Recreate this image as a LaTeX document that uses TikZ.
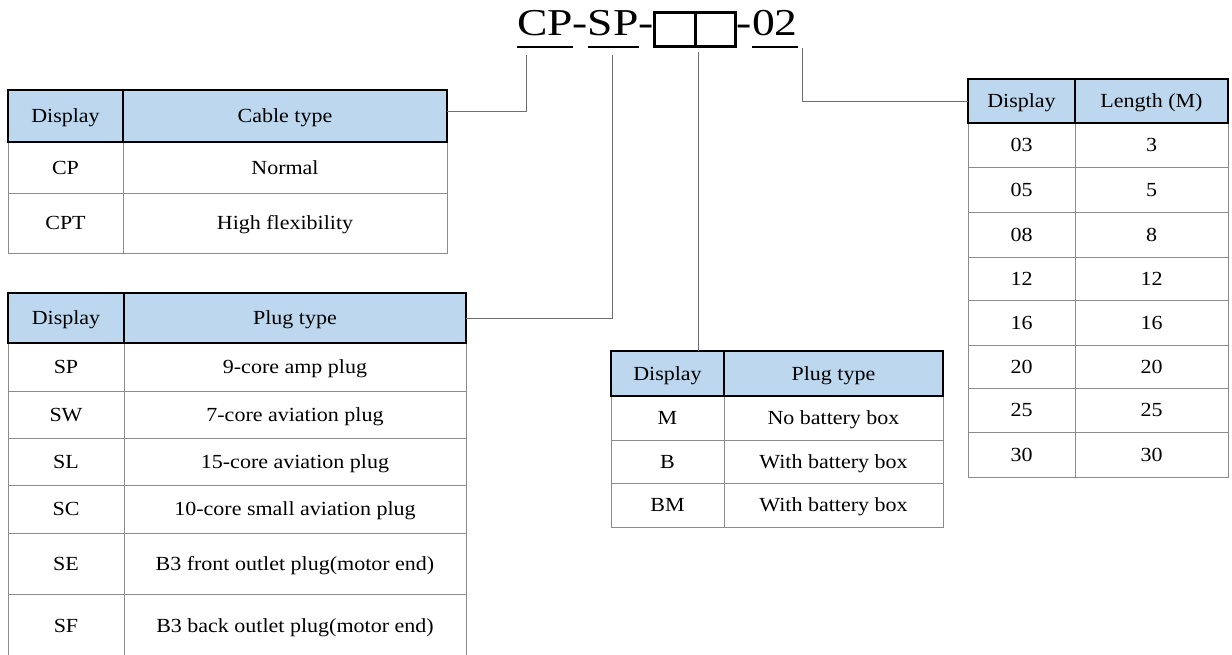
\documentclass[tikz,border=0pt]{standalone}
\usepackage{fontspec}
\setmainfont{Liberation Serif}
\newfontfamily\tabfont[FakeStretch=1.1]{Liberation Serif}
\newfontfamily\titlefont[FakeStretch=1.2]{Liberation Serif}
\definecolor{hdrblue}{RGB}{189,215,238}
\definecolor{bodygray}{RGB}{140,140,140}
\definecolor{linegray}{RGB}{110,110,110}
\tikzset{
  cellbase/.style={inner sep=0pt, outer sep=0pt, text height=13.2pt, text depth=0pt,
    font=\tabfont\fontsize{20}{24}\selectfont},
  hdr/.style={cellbase, draw=black, line width=2.5pt, fill=hdrblue},
  bodycell/.style={cellbase, draw=bodygray, line width=1pt},
  conn/.style={draw=linegray, line width=1pt},
  uline/.style={draw=black, line width=1.5pt},
  sqbox/.style={draw=black, line width=3pt, inner sep=0pt, outer sep=0pt},
  ttl/.style={inner sep=0pt, outer sep=0pt, font=\titlefont\fontsize{38}{40}\selectfont},
}
% #1 style, #2 name, #3 x1, #4 y1, #5 x2, #6 y2, #7 text
\newcommand\mkcell[7][bodycell]{%
  \node[#1, minimum width={(#5-#3)*1pt}, minimum height={(#6-#4)*1pt}] (#2) at ({(#3+#5)/2},{(#4+#6)/2}) {#7};}
\begin{document}
\begin{tikzpicture}[x=1pt,y=-1pt]
\useasboundingbox[fill=white] (0,0) rectangle (1232,654);

% ---------- title ----------
\node[ttl, anchor=base west] (tCP) at (517,35) {CP};
\node[ttl, anchor=base west] (tD1) at (tCP.base east) {-};
\node[ttl, anchor=base west] (tSP) at (tD1.base east) {SP};
\node[ttl, anchor=base west] (tD2) at (tSP.base east) {-};
\node[sqbox, minimum width=41pt, minimum height=34pt, anchor=south west] (bx1) at ([xshift=1pt]tD2.east |- 0,46) {};
\node[sqbox, minimum width=40pt, minimum height=34pt, anchor=south west] (bx2) at (bx1.south east) {};
\node[ttl, anchor=base west] (tD3) at ([xshift=1pt]bx2.east |- 0,35) {-};
\node[ttl, anchor=base west] (t02) at (tD3.base east) {02};
\draw[uline] (tCP.west |- 0,47) -- (tCP.east |- 0,47);
\draw[uline] (tSP.west |- 0,47) -- (tSP.east |- 0,47);
\draw[uline] (t02.west |- 0,47) -- (t02.east |- 0,47);

% ---------- table 1: cable type ----------
\mkcell{t1r1c1}{8}{142}{123}{193}{CP}
\mkcell{t1r1c2}{123}{142}{447}{193}{Normal}
\mkcell{t1r2c1}{8}{193}{123}{253}{CPT}
\mkcell{t1r2c2}{123}{193}{447}{253}{High flexibility}
\mkcell[hdr]{t1h1}{8}{90}{123}{142}{Display}
\mkcell[hdr]{t1h2}{123}{90}{447}{142}{Cable type}

% ---------- table 2: plug type ----------
\mkcell{t2r1c1}{8}{343}{124}{391}{SP}
\mkcell{t2r1c2}{124}{343}{466}{391}{9-core amp plug}
\mkcell{t2r2c1}{8}{391}{124}{438}{SW}
\mkcell{t2r2c2}{124}{391}{466}{438}{7-core aviation plug}
\mkcell{t2r3c1}{8}{438}{124}{485}{SL}
\mkcell{t2r3c2}{124}{438}{466}{485}{15-core aviation plug}
\mkcell{t2r4c1}{8}{485}{124}{533}{SC}
\mkcell{t2r4c2}{124}{485}{466}{533}{10-core small aviation plug}
\mkcell{t2r5c1}{8}{533}{124}{594}{SE}
\mkcell{t2r5c2}{124}{533}{466}{594}{B3 front outlet plug(motor end)}
\mkcell{t2r6c1}{8}{594}{124}{658}{SF}
\mkcell{t2r6c2}{124}{594}{466}{658}{B3 back outlet plug(motor end)}
\mkcell[hdr]{t2h1}{8}{293}{124}{343}{Display}
\mkcell[hdr]{t2h2}{124}{293}{466}{343}{Plug type}

% ---------- table 3: battery box ----------
\mkcell{t3r1c1}{611}{396}{724}{440}{M}
\mkcell{t3r1c2}{724}{396}{943}{440}{No battery box}
\mkcell{t3r2c1}{611}{440}{724}{483}{B}
\mkcell{t3r2c2}{724}{440}{943}{483}{With battery box}
\mkcell{t3r3c1}{611}{483}{724}{527}{BM}
\mkcell{t3r3c2}{724}{483}{943}{527}{With battery box}
\mkcell[hdr]{t3h1}{611}{351}{724}{396}{Display}
\mkcell[hdr]{t3h2}{724}{351}{943}{396}{Plug type}

% ---------- table 4: length ----------
\mkcell{t4r1c1}{968}{123}{1075}{167}{03}
\mkcell{t4r1c2}{1075}{123}{1228}{167}{3}
\mkcell{t4r2c1}{968}{167}{1075}{212}{05}
\mkcell{t4r2c2}{1075}{167}{1228}{212}{5}
\mkcell{t4r3c1}{968}{212}{1075}{257}{08}
\mkcell{t4r3c2}{1075}{212}{1228}{257}{8}
\mkcell{t4r4c1}{968}{257}{1075}{300}{12}
\mkcell{t4r4c2}{1075}{257}{1228}{300}{12}
\mkcell{t4r5c1}{968}{300}{1075}{345}{16}
\mkcell{t4r5c2}{1075}{300}{1228}{345}{16}
\mkcell{t4r6c1}{968}{345}{1075}{388}{20}
\mkcell{t4r6c2}{1075}{345}{1228}{388}{20}
\mkcell{t4r7c1}{968}{388}{1075}{432}{25}
\mkcell{t4r7c2}{1075}{388}{1228}{432}{25}
\mkcell{t4r8c1}{968}{432}{1075}{477}{30}
\mkcell{t4r8c2}{1075}{432}{1228}{477}{30}
\mkcell[hdr]{t4h1}{968}{79}{1075}{123}{Display}
\mkcell[hdr]{t4h2}{1075}{79}{1228}{123}{Length (M)}

% ---------- connectors ----------
\coordinate (c1) at (526,55);
\coordinate (c2) at (612,55);
\coordinate (c3) at (698,52);
\coordinate (c4) at (802,48);
\draw[conn] (c1) |- ([yshift=5pt]t1h2.east);
\draw[conn] (c2) |- (t2h2.east);
\draw[conn] (c3) -- (c3 |- t3h1.north);
\draw[conn] (c4) |- (t4h1.west);
\end{tikzpicture}
\end{document}
